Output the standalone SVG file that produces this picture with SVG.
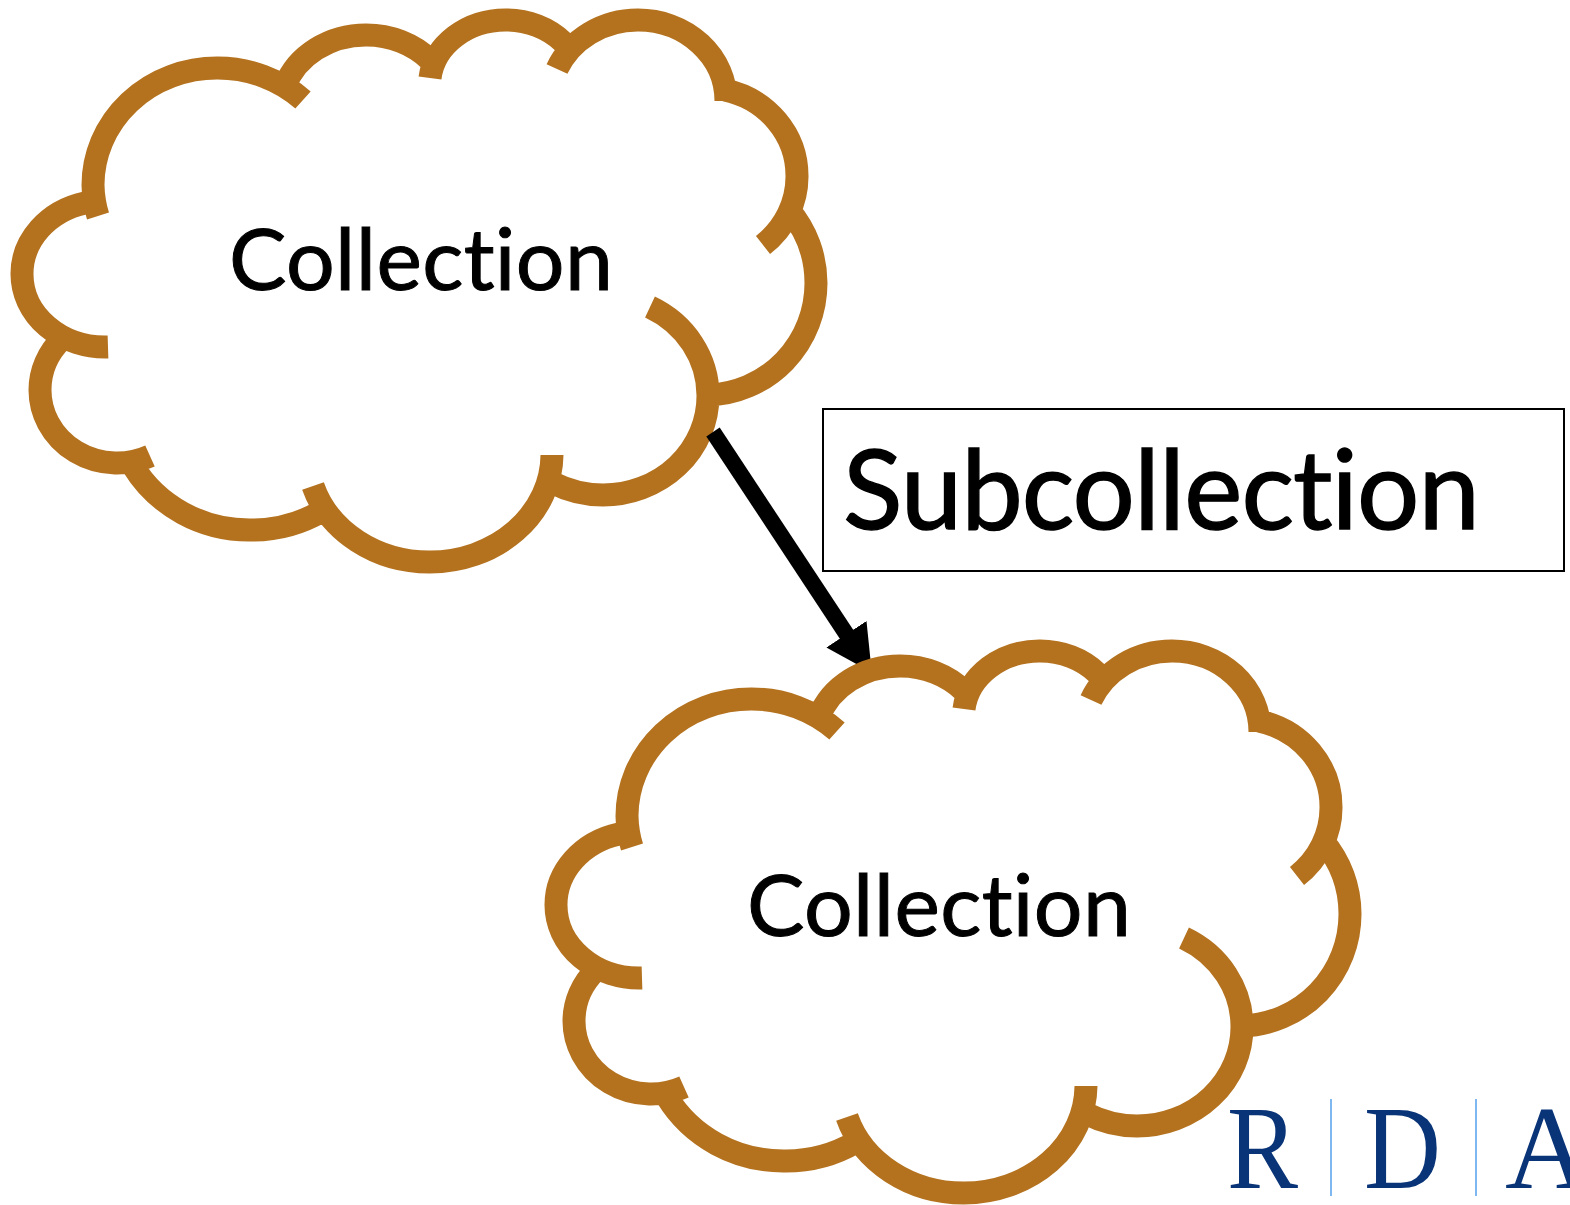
<svg xmlns="http://www.w3.org/2000/svg" width="1570" height="1205" viewBox="0 0 1570 1205">
<style>
.cl{fill:none;stroke:#b4721f;stroke-width:23}
.t{font-family:"Lato","Open Sans",sans-serif;fill:#000;stroke:#000;font-variant-ligatures:none}
.rda{font-family:"Liberation Serif",serif;font-size:118px;fill:#0a3478}
.div{stroke:#7fb8f0;stroke-width:2}
</style>
<defs>
<path id="cloud" class="cl" d="M98 216A124 117 0 0 1 93 185A124 117 0 0 1 217 68A124 117 0 0 1 303 100M285 86A85.500 75 0 0 1 366 35A85.500 75 0 0 1 430 60M430 78A76 65 0 0 1 506 20A76 65 0 0 1 563 42M557 69A88 81 0 0 1 638 20A88 81 0 0 1 726 101M725 90A92 88 0 0 1 797 176A92 88 0 0 1 763 245M789 210A111 112 0 0 1 816 283A111 112 0 0 1 708 395M650 307A105 99 0 0 1 708 396A105 99 0 0 1 603 495A105 99 0 0 1 553 483M552 455A122 108 0 0 1 430 562A122 108 0 0 1 313 486M322 511A135 130 0 0 1 250 530A135 130 0 0 1 133 466M62 339A77 73 0 0 0 40 390A77 73 0 0 0 150 456M108 347A83 73 0 0 1 22 274A83 73 0 0 1 85 203"/>
<marker id="ah" markerUnits="userSpaceOnUse" markerWidth="52" markerHeight="56" refX="1" refY="28" orient="auto"><path d="M0 4L46 28L0 52Z" fill="#000"/></marker>
</defs>
<rect width="1570" height="1205" fill="#fff"/>
<g id="node-collection-1"><use href="#cloud"/><text class="t" x="229" y="290" font-size="86" stroke-width="1" textLength="384">Collection</text></g>
<g id="connectors"><line x1="713" y1="432" x2="847" y2="635" stroke="#000" stroke-width="16" marker-end="url(#ah)"/></g>
<g id="node-collection-2"><use href="#cloud" x="534" y="631"/><text class="t" x="747" y="936" font-size="86" stroke-width="1" textLength="384">Collection</text></g>
<g id="node-subcollection"><rect x="823" y="409" width="741" height="162" fill="none" stroke="#000" stroke-width="2"/><text class="t" x="843" y="529" font-size="110" stroke-width="1.400" textLength="637">Subcollection</text></g>
<g id="logo"><text class="rda" x="1227" y="1188" textLength="71" lengthAdjust="spacingAndGlyphs">R</text><line class="div" x1="1331" y1="1099" x2="1331" y2="1196"/><text class="rda" x="1364" y="1188" textLength="77" lengthAdjust="spacingAndGlyphs">D</text><line class="div" x1="1476" y1="1099" x2="1476" y2="1196"/><text class="rda" x="1505" y="1188">A</text></g>
</svg>
